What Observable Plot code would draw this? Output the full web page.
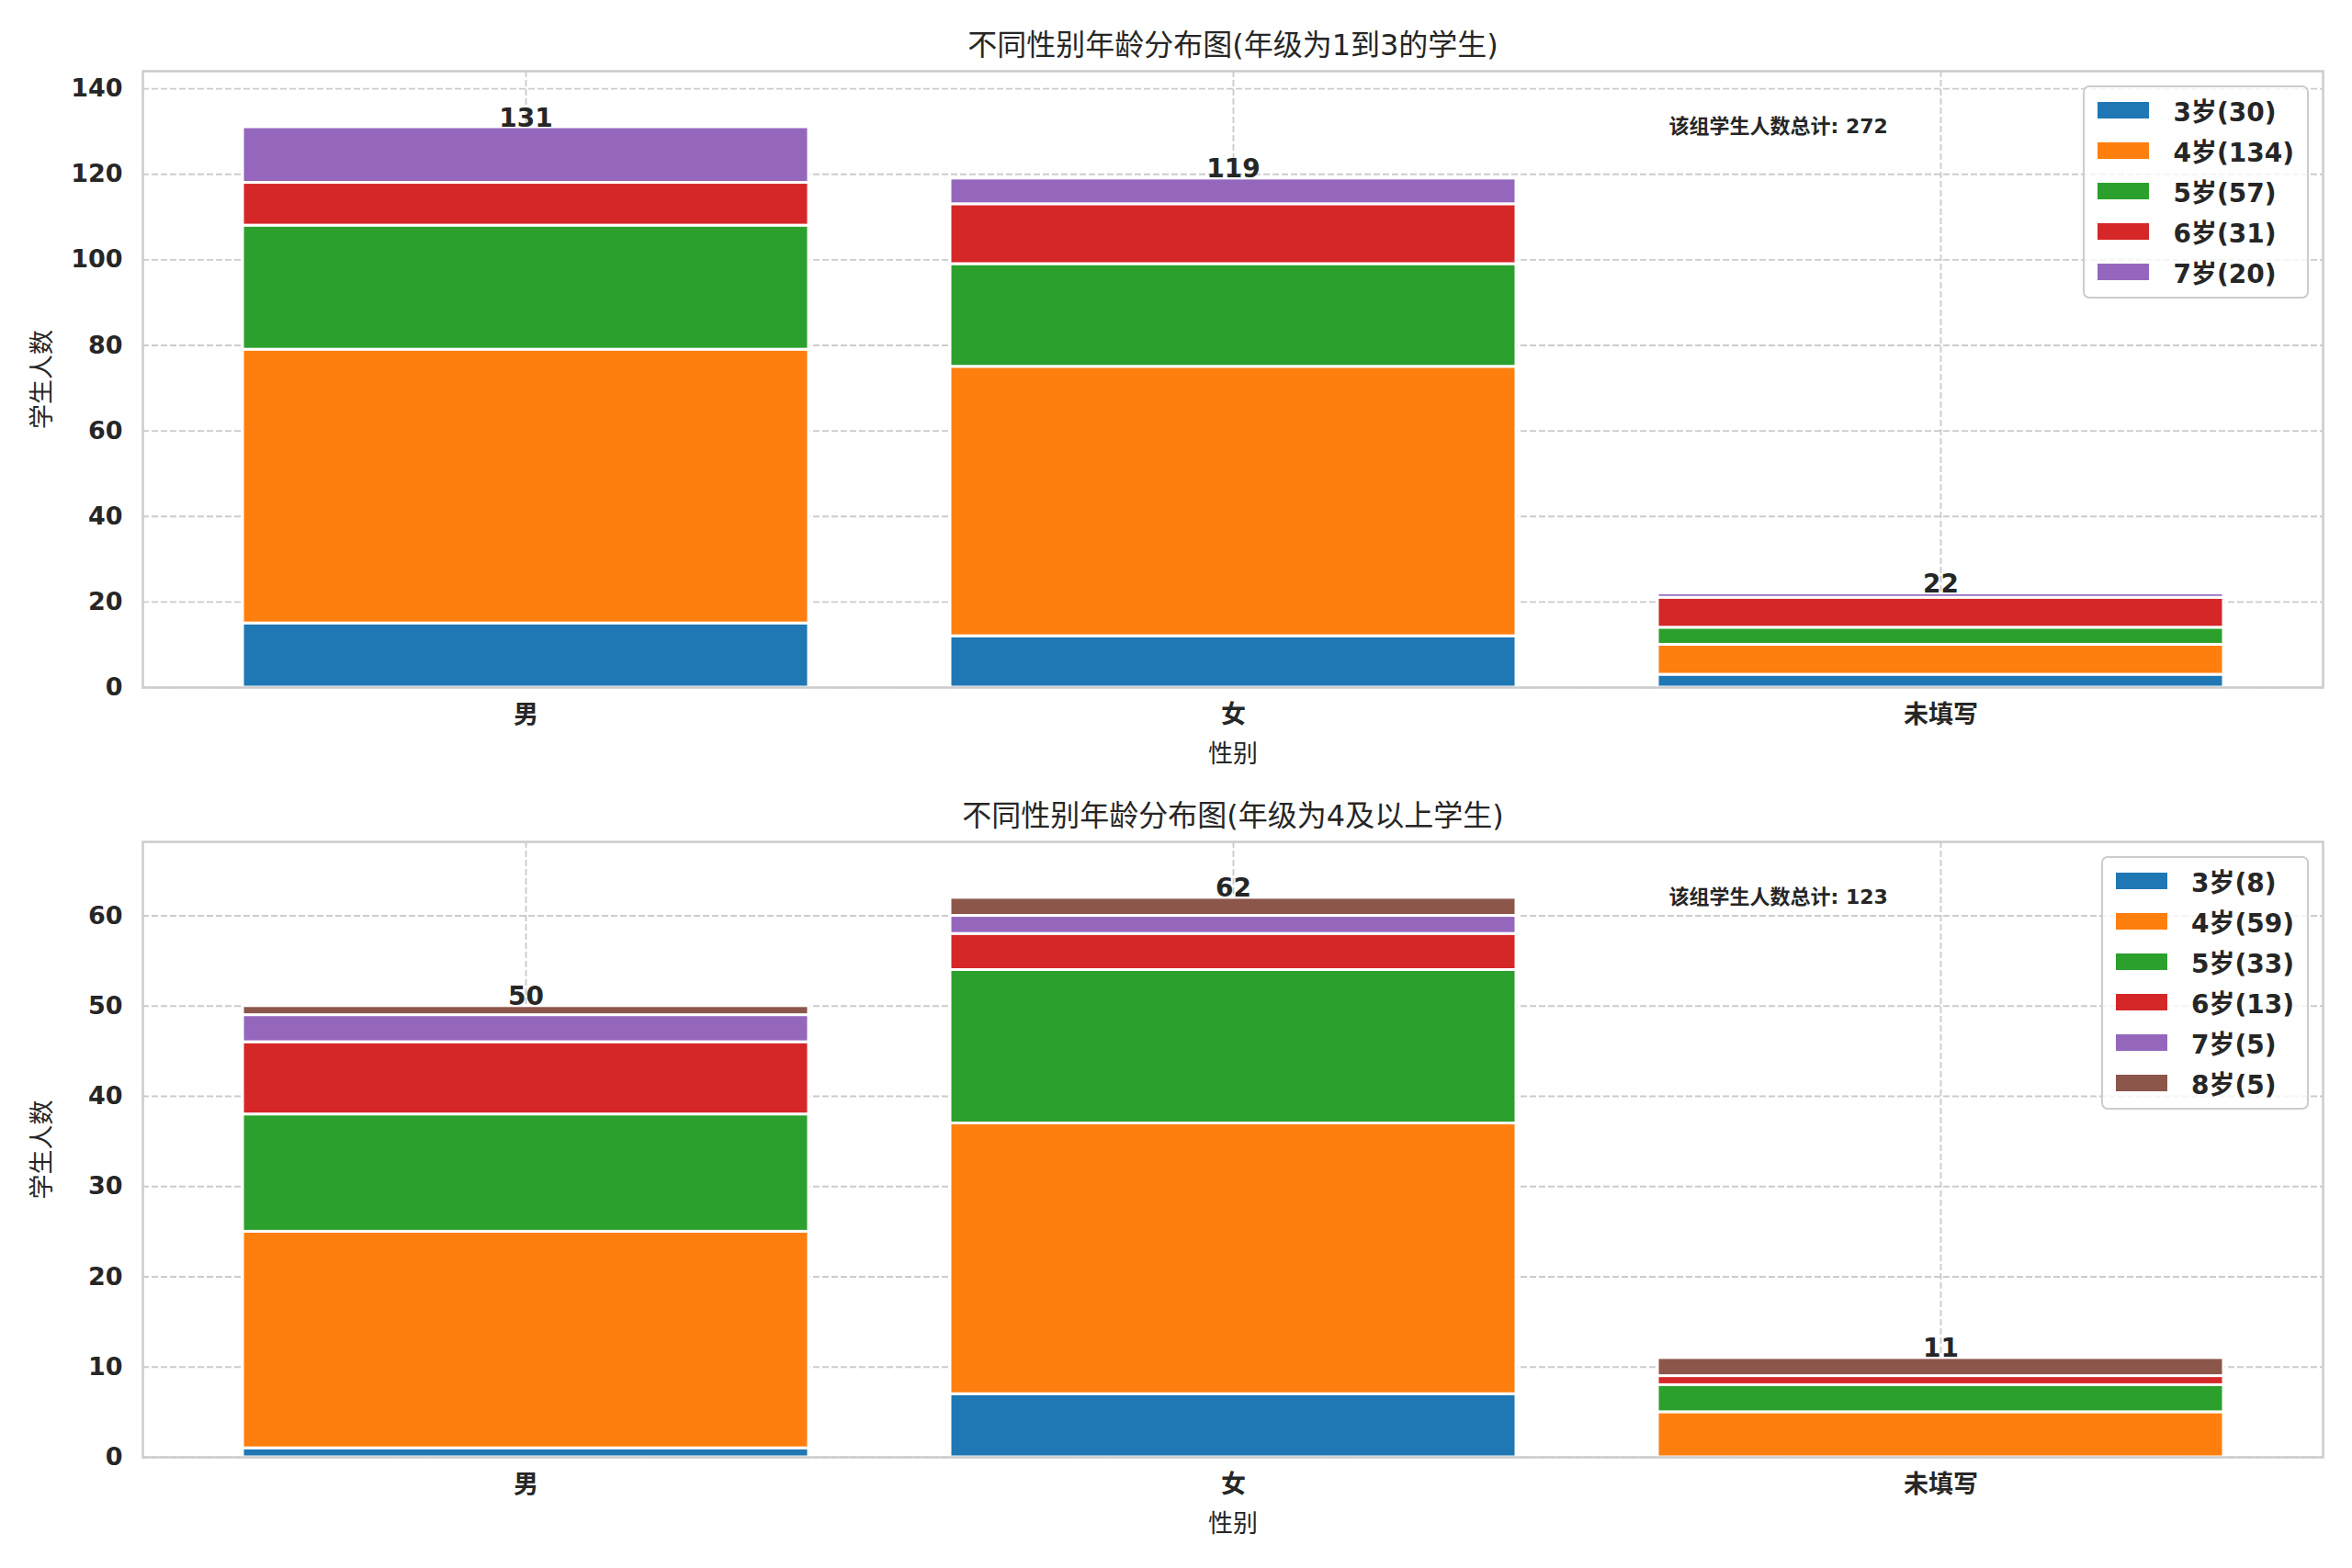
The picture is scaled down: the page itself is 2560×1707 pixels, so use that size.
<!DOCTYPE html>
<html>
<head>
<meta charset="utf-8">
<script src="https://cdn.jsdelivr.net/npm/d3@7"></script>
<script src="https://cdn.jsdelivr.net/npm/@observablehq/plot@0.6"></script>
<style>
  html, body { margin: 0; padding: 0; background: white; }
  #root { width: 2560px; position: relative; }
  .panel { position: relative; width: 2560px; }
  .legend {
    position: absolute;
    background: rgba(255,255,255,0.8);
    border: 2px solid #cccccc;
    border-radius: 7px;
    padding: 3px 14px 5px 14px;
    font-family: 'DejaVu Sans', 'Noto Sans CJK SC', sans-serif;
    font-weight: bold;
    font-size: 28px;
    color: #262626;
    box-sizing: border-box;
  }
  .legend .row { display: flex; align-items: center; height: 44px; }
  .legend .sw { width: 56px; height: 18px; margin-right: 26px; }
</style>
</head>
<body>
<div id="root"></div>
<script>
// ---------------- data ----------------
const genders = ["男", "女", "未填写"];
const colors = ["#1f77b4", "#ff7f0e", "#2ca02c", "#d62728", "#9467bd", "#8c564b"];

// group 1 (年级为1到3的学生)
const ages1 = ["3岁", "4岁", "5岁", "6岁", "7岁"];
const g1_age3 = [15, 12, 3];
const g1_age4 = [64, 63, 7];
const g1_age5 = [29, 24, 4];
const g1_age6 = [10, 14, 7];
const g1_age7 = [13, 6, 1];

// group 2 (年级为4及以上学生)
const ages2 = ["3岁", "4岁", "5岁", "6岁", "7岁", "8岁"];
const g2_age3 = [1, 7, 0];
const g2_age4 = [24, 30, 5];
const g2_age5 = [13, 17, 3];
const g2_age6 = [8, 4, 1];
const g2_age7 = [3, 2, 0];
const g2_age8 = [1, 2, 2];

const ticks1 = [0, 20, 40, 60, 80, 100, 120, 140];
const ticks2 = [0, 10, 20, 30, 40, 50, 60];

const title1 = "不同性别年龄分布图(年级为1到3的学生)";
const title2 = "不同性别年龄分布图(年级为4及以上学生)";
const xLabel = "性别";
const yLabel = "学生人数";
const totalPrefix = "该组学生人数总计";

// ---------------- chart ----------------
const FONT = "'DejaVu Sans', 'Noto Sans CJK SC', sans-serif";
const INK = "#262626";

function panel({ages, series, ticks, title, height, marginTop, marginBottom, legendTop}) {
  const rows = [];
  ages.forEach((a, ai) => genders.forEach((g, gi) => {
    if (series[ai][gi] > 0) rows.push({gender: g, age: a, count: series[ai][gi]});
  }));
  const totals = genders.map((g, gi) => ({gender: g, total: d3.sum(series, s => s[gi])}));
  const grand = d3.sum(totals, d => d.total);
  const ymax = d3.max(totals, d => d.total) * 1.1;
  const W = 2560, ML = 155, MR = 32;
  const fw = W - ML - MR;

  const chart = Plot.plot({
    width: W,
    height,
    marginLeft: ML,
    marginRight: MR,
    marginTop,
    marginBottom,
    style: {fontFamily: FONT, fontSize: "27px", color: INK, background: "white", overflow: "visible"},
    x: {type: "band", domain: genders, paddingInner: 0.2, paddingOuter: 0.14},
    y: {domain: [0, ymax]},
    color: {domain: ages2, range: colors},
    marks: [
      Plot.gridY(ticks, {stroke: "#cccccc", strokeOpacity: 1, strokeWidth: 1.9, strokeDasharray: "7,3"}),
      Plot.gridX(genders, {stroke: "#cccccc", strokeOpacity: 1, strokeWidth: 1.9, strokeDasharray: "7,3"}),
      Plot.barY(rows, {x: "gender", y: "count", fill: "age", stroke: "white", strokeWidth: 3}),
      Plot.frame({stroke: "#cccccc", strokeWidth: 2.5}),
      Plot.axisY(ticks, {tickSize: 0, tickPadding: 22, fontWeight: "bold", fontSize: 27, fill: INK, label: null}),
      Plot.axisX({tickSize: 0, tickPadding: 19, fontWeight: "bold", fontSize: 27, fill: INK, label: null}),
      Plot.text(totals, {x: "gender", y: "total", text: d => String(d.total), lineAnchor: "bottom", dy: -1, fontWeight: "bold", fontSize: 28, fill: INK}),
      Plot.text([title], {frameAnchor: "top", dy: -28, lineAnchor: "middle", fontSize: 32, fill: INK}),
      Plot.text([xLabel], {frameAnchor: "bottom", dy: 73, lineAnchor: "middle", fontSize: 27, fill: INK}),
      Plot.text([yLabel], {frameAnchor: "left", dx: -109, rotate: -90, lineAnchor: "middle", textAnchor: "middle", fontSize: 27, fill: INK}),
      Plot.text([`${totalPrefix}: ${grand}`], {frameAnchor: "top-left", dx: Math.round(fw * 0.7), dy: 60, textAnchor: "start", lineAnchor: "middle", fontSize: 22, fontWeight: "bold", fill: INK})
    ]
  });

  const wrap = document.createElement("div");
  wrap.className = "panel";
  wrap.appendChild(chart);
  const leg = document.createElement("div");
  leg.className = "legend";
  leg.style.top = legendTop + "px";
  leg.style.right = "47px";
  ages.forEach((a, ai) => {
    const r = document.createElement("div");
    r.className = "row";
    const sw = document.createElement("div");
    sw.className = "sw";
    sw.style.background = colors[ai];
    const t = document.createElement("span");
    t.textContent = `${a}(${d3.sum(series[ai])})`;
    r.appendChild(sw); r.appendChild(t);
    leg.appendChild(r);
  });
  wrap.appendChild(leg);
  return wrap;
}

const root = document.getElementById("root");
root.appendChild(panel({
  ages: ages1,
  series: [g1_age3, g1_age4, g1_age5, g1_age6, g1_age7],
  ticks: ticks1, title: title1,
  height: 840, marginTop: 77, marginBottom: 92, legendTop: 93
}));
root.appendChild(panel({
  ages: ages2,
  series: [g2_age3, g2_age4, g2_age5, g2_age6, g2_age7, g2_age8],
  ticks: ticks2, title: title2,
  height: 867, marginTop: 76, marginBottom: 121, legendTop: 92
}));
</script>
</body>
</html>
